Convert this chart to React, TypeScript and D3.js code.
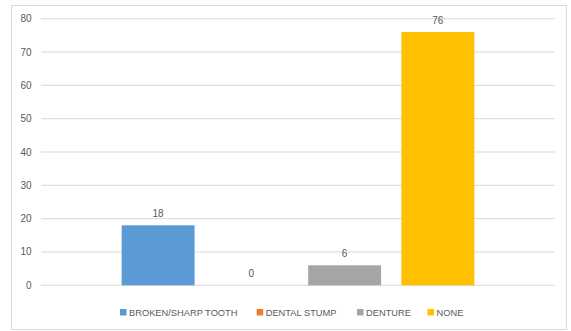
import React from "react";
import * as d3 from "d3";

// Single-category clustered bar chart: one bar per series
const seriesNames = ["BROKEN/SHARP TOOTH", "DENTAL STUMP", "DENTURE", "NONE"];
const seriesValues = [18, 0, 6, 76];
const seriesColors = ["#5B9BD5", "#ED7D31", "#A5A5A5", "#FFC000"];
const yTicks = [0, 10, 20, 30, 40, 50, 60, 70, 80];

const W = 571;
const H = 331;
const plot = { left: 41, right: 555, top: 18.7, bottom: 285.3 };
const groupInset = 70.5;
const font = "'Liberation Sans', Arial, sans-serif";
const textColor = "#595959";

export default function App() {
  const y = d3.scaleLinear().domain([0, 80]).range([plot.bottom, plot.top]);
  const x = d3
    .scaleBand<string>()
    .domain(seriesNames)
    .range([plot.left + groupInset, plot.right - groupInset])
    .paddingInner(0.218)
    .paddingOuter(0.109);

  // legend layout: swatch + label, items laid out left to right
  const legendY = 312.3;
  const legendX = [120, 256.7, 357, 427.5];

  return (
    <svg
      width={W}
      height={H}
      style={{ position: "absolute", left: 0, top: 0, background: "#fff" }}
    >
      <rect x={11.5} y={5.5} width={555} height={324} fill="#fff" stroke="#D9D9D9" />
      {yTicks.map((t) => (
        <g key={t}>
          <line
            x1={plot.left}
            x2={plot.right}
            y1={y(t)}
            y2={y(t)}
            stroke="#D9D9D9"
            strokeWidth={1}
          />
          <text
            x={31.5}
            y={y(t)}
            dy="0.35em"
            textAnchor="end"
            fontFamily={font}
            fontSize={10}
            fill={textColor}
          >
            {t}
          </text>
        </g>
      ))}
      {seriesNames.map((s, i) => {
        const v = seriesValues[i];
        const bx = x(s)!;
        return (
          <g key={s}>
            <rect
              x={bx}
              y={y(v)}
              width={x.bandwidth()}
              height={plot.bottom - y(v)}
              fill={seriesColors[i]}
            />
            <text
              x={bx + x.bandwidth() / 2}
              y={y(v) - 12}
              dy="0.35em"
              textAnchor="middle"
              fontFamily={font}
              fontSize={10}
              fill={textColor}
            >
              {v}
            </text>
          </g>
        );
      })}
      {seriesNames.map((s, i) => (
        <g key={"lg" + s} transform={`translate(${legendX[i]},${legendY})`}>
          <rect x={0} y={-3.3} width={6.5} height={6.5} fill={seriesColors[i]} />
          <text
            x={9}
            y={0}
            dy="0.35em"
            fontFamily={font}
            fontSize={9.3}
            fill={textColor}
          >
            {s}
          </text>
        </g>
      ))}
    </svg>
  );
}
